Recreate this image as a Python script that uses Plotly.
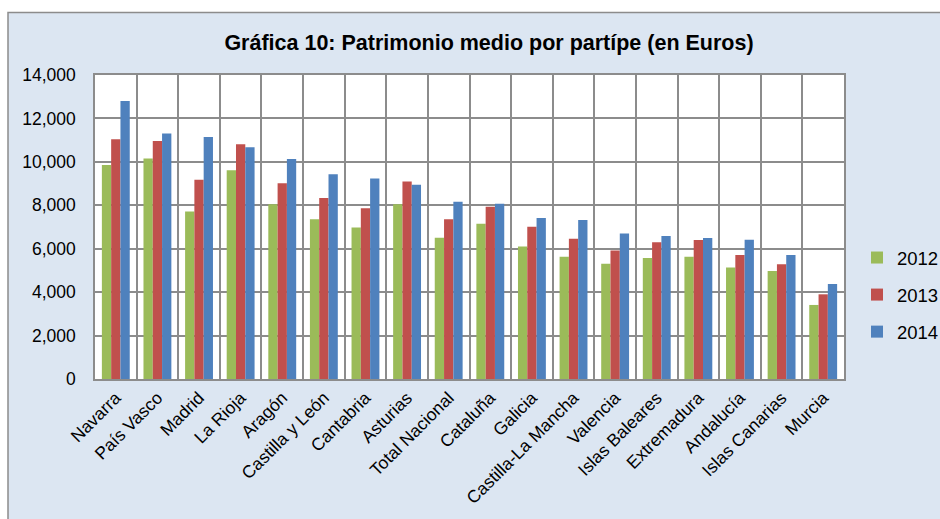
import plotly.graph_objects as go

categories = ["Navarra", "País Vasco", "Madrid", "La Rioja", "Aragón", "Castilla y León",
              "Cantabria", "Asturias", "Total Nacional", "Cataluña", "Galicia",
              "Castilla-La Mancha", "Valencia", "Islas Baleares", "Extremadura",
              "Andalucía", "Islas Canarias", "Murcia"]
v2012 = [9860, 10150, 7710, 9610, 8050, 7360, 6980, 8050, 6500, 7150, 6100, 5630, 5310, 5570, 5630, 5140, 4970, 3410]
v2013 = [11040, 10960, 9180, 10810, 9010, 8340, 7860, 9100, 7360, 7930, 7010, 6460, 5920, 6300, 6400, 5710, 5280, 3900]
v2014 = [12800, 11310, 11140, 10670, 10130, 9430, 9230, 8940, 8160, 8070, 7420, 7320, 6700, 6580, 6490, 6410, 5710, 4370]
series_names = ["2012", "2013", "2014"]
colors = ["#9BBB59", "#C0504D", "#4F81BD"]

W, H = 940, 519
L, R, T, B = 95, 844, 75, 379
pw, ph = R - L, B - T

def px_x(p):
    return (p - L) / pw

def px_y(p):
    return (B - p) / ph

FONT = "Liberation Sans, Arial, sans-serif"

fig = go.Figure()
for name, vals, col in zip(series_names, [v2012, v2013, v2014], colors):
    fig.add_trace(go.Bar(x=categories, y=vals, name=name, marker_color=col,
                         marker_line_width=0, legendgroup=name))

grid = "#8C8C8C"
fig.update_layout(
    width=W, height=H,
    margin=dict(l=L, r=W - R, t=T, b=H - B, autoexpand=False),
    paper_bgcolor="white",
    plot_bgcolor="white",
    font=dict(family=FONT, size=18, color="black"),
    barmode="group", bargap=0.33, bargroupgap=0,
    title=dict(text="<b>Gráfica 10: Patrimonio medio por partípe (en Euros)</b>",
               x=489 / W, xanchor="center", y=1 - 42 / H, yanchor="middle",
               xref="container", yref="container",
               font=dict(family=FONT, size=21.5, color="black")),
    legend=dict(x=px_x(857), y=px_y(239), xanchor="left", yanchor="top",
                bgcolor="rgba(0,0,0,0)", font=dict(size=18.5),
                traceorder="grouped", tracegroupgap=10),
    xaxis=dict(tickangle=-45, tickson="boundaries", showgrid=True, gridcolor=grid,
               gridwidth=1.5, showline=True, linecolor=grid, linewidth=1.5, mirror=True,
               ticks="", tickfont=dict(size=17.5)),
    yaxis=dict(range=[0, 14000], dtick=2000, tickformat=",", showgrid=True,
               gridcolor=grid, gridwidth=1.5, showline=True, linecolor=grid,
               linewidth=1.5, mirror=True, ticks="", ticklabelstandoff=14,
               tickfont=dict(size=17.5), zeroline=False),
    shapes=[
        dict(type="rect", xref="paper", yref="paper", layer="below",
             x0=px_x(8), x1=px_x(975), y0=px_y(535), y1=px_y(12.5),
             fillcolor="#DCE6F2", line=dict(color="#8C8C8C", width=1.5)),
        dict(type="rect", xref="paper", yref="paper", layer="below",
             x0=0, x1=1, y0=0, y1=1, fillcolor="white", line=dict(width=0)),
    ],
)

fig.write_html("out.html", config={"displayModeBar": False},
               post_script="document.body.style.margin='0';document.body.style.overflow='hidden';")
